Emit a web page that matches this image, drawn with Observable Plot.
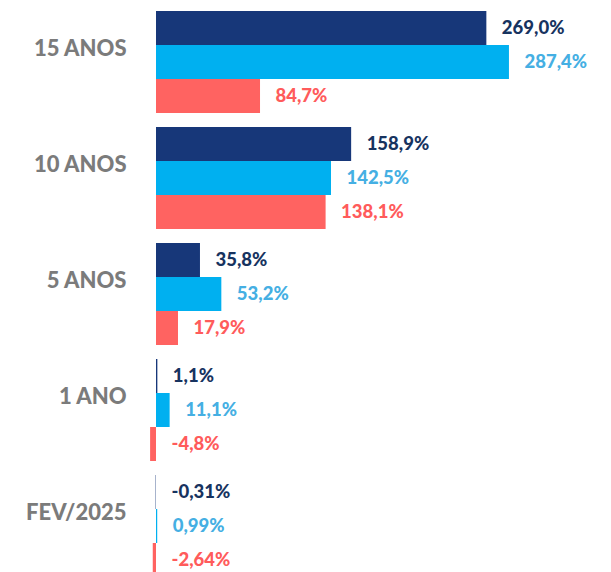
<!DOCTYPE html>
<html>
<head>
<meta charset="utf-8">
<script src="https://cdn.jsdelivr.net/npm/d3@7"></script>
<script src="https://cdn.jsdelivr.net/npm/@observablehq/plot@0.6"></script>
<style>
  html, body { margin: 0; padding: 0; background: #fff; overflow: hidden; }
  #chart svg { display: block; }
</style>
</head>
<body>
<div id="chart"></div>
<script>
const categories = ["15 ANOS", "10 ANOS", "5 ANOS", "1 ANO", "FEV/2025"];
const decimals = [1, 1, 1, 1, 2];
const seriesNames = ["A", "B", "C"];
const seriesA = [269.0, 158.9, 35.8, 1.1, -0.31];
const seriesB = [287.4, 142.5, 53.2, 11.1, 0.99];
const seriesC = [84.7, 138.1, 17.9, -4.8, -2.64];
const barColors = ["#173779", "#00b0f0", "#ff6361"];
const textColors = ["#17335f", "#45afe3", "#ff5b5b"];

const all = [seriesA, seriesB, seriesC];
const data = [];
categories.forEach((c, i) => {
  seriesNames.forEach((s, j) => {
    data.push({ category: c, series: s, value: all[j][i], dec: decimals[i] });
  });
});
const fmt = d => d.value.toFixed(d.dec).replace(".", ",") + "%";

const chart = Plot.plot({
  width: 611,
  height: 572,
  marginLeft: 156,
  marginRight: 0,
  marginTop: 10,
  marginBottom: -5,
  style: { fontFamily: "Lato, sans-serif", background: "#fff" },
  x: { domain: [0, 370.5], axis: null },
  y: { domain: seriesNames, padding: 0, axis: null },
  fy: { domain: categories, paddingInner: 0.123, paddingOuter: 0, axis: null },
  color: { domain: seriesNames, range: barColors },
  marks: [
    Plot.barX(data, { fy: "category", y: "series", x: "value", fill: "series" }),
    Plot.text(categories, {
      fy: d => d, text: d => d, frameAnchor: "left", textAnchor: "end",
      dx: -30, dy: -14, fontSize: 22, fontWeight: 900, fill: "#7b7b7b"
    }),
    Plot.text(data, {
      fy: "category", y: "series", x: d => Math.max(d.value, 0),
      text: fmt, dx: 15, textAnchor: "start", fontSize: 18.5, fontWeight: 900,
      fill: d => textColors[seriesNames.indexOf(d.series)]
    })
  ]
});
document.getElementById("chart").appendChild(chart);
</script>
</body>
</html>
